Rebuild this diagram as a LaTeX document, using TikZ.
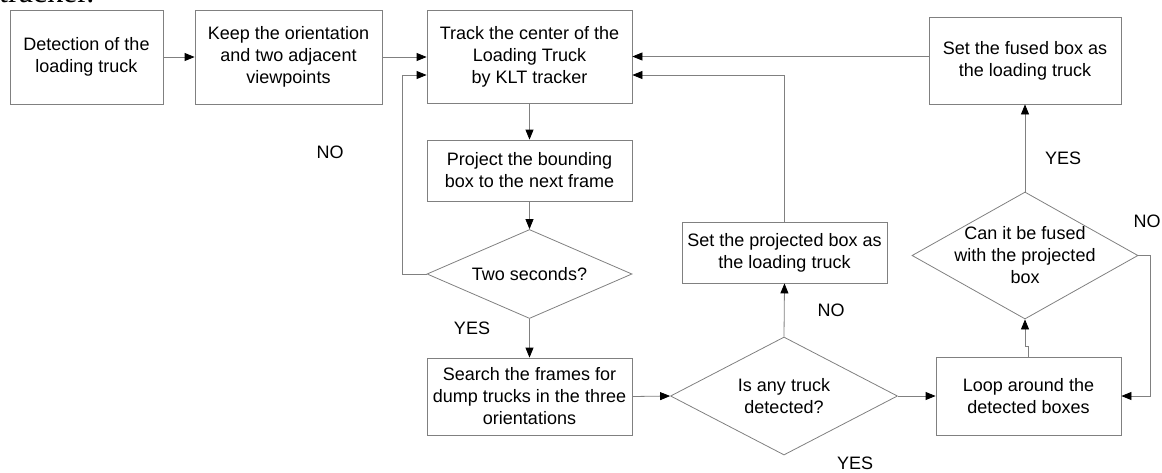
\documentclass[tikz,border=0pt]{standalone}
\usepackage{fontspec}
\setmainfont{Liberation Sans}
\newfontfamily\captionserif{Liberation Serif}
\usetikzlibrary{arrows.meta}
\usetikzlibrary{shapes.geometric}

\definecolor{flowgray}{RGB}{128,128,128}
\newcommand{\FlowFont}{\fontsize{18pt}{22pt}\selectfont}

\tikzset{
  flowline/.style={draw=flowgray, line width=0.8pt},
  flowarrow/.style={flowline, -{Triangle[length=10pt,width=8pt,black]}},
  stepbox/.style={draw=flowgray, line width=0.8pt, inner sep=0pt, align=center, font=\FlowFont},
  decisionbox/.style={draw=flowgray, line width=0.8pt, diamond, inner sep=0pt},
  flowtext/.style={align=center, inner sep=0pt, font=\FlowFont},
}

% name, position, width, height, text
\newcommand{\FlowStep}[5]{
  \node[stepbox, minimum width=#3, minimum height=#4] (#1) at #2 {#5};
}
\newcommand{\FlowDecision}[5]{
  \node[decisionbox, minimum width=#3, minimum height=#4] (#1) at #2 {};
  \node[flowtext] (#1text) at (#1) {#5};
}
\newcommand{\FlowLabel}[3]{
  \node[flowtext] (#1) at #2 {#3};
}

\begin{document}
\begin{tikzpicture}[x=1pt,y=-1pt]
\useasboundingbox (0,0) rectangle (1162,472);
\node[anchor=base west, inner sep=0pt, font=\captionserif\fontsize{32pt}{32pt}\selectfont] (caption) at (-1,2) {tracker.};

\FlowStep{detect}{(86.5,57)}{153pt}{94pt}{Detection of the\\loading truck}
\FlowStep{keep}{(288.5,57)}{187pt}{94pt}{Keep the orientation\\and two adjacent\\viewpoints}
\FlowStep{track}{(529.5,56.5)}{205pt}{93pt}{Track the center of the\\Loading Truck\\by KLT tracker}
\FlowStep{project}{(529.5,170.5)}{205pt}{61pt}{Project the bounding\\box to the next frame}
\FlowDecision{twosec}{(529.5,274)}{205pt}{89pt}{Two seconds?}
\FlowStep{search}{(529.5,396.5)}{205pt}{77pt}{Search the frames for\\dump trucks in the three\\orientations}
\FlowDecision{anytruck}{(784,396)}{227pt}{118pt}{Is any truck\\detected?}
\FlowStep{setproj}{(784.5,252.5)}{205pt}{61pt}{Set the projected box as\\the loading truck}
\FlowStep{loop}{(1028.5,396)}{185pt}{78pt}{Loop around the\\detected boxes}
\FlowDecision{fuse}{(1025,255.5)}{226pt}{127pt}{Can it be fused\\with the projected\\box}
\FlowStep{setfused}{(1025,60.5)}{192pt}{87pt}{Set the fused box as\\the loading truck}

\FlowLabel{noback}{(330,152)}{NO}
\FlowLabel{yestwo}{(472,328)}{YES}
\FlowLabel{noany}{(831,310)}{NO}
\FlowLabel{yesany}{(855,463)}{YES}
\FlowLabel{yesfuse}{(1063,158)}{YES}
\FlowLabel{nofuse}{(1147,221)}{NO}

\draw[flowarrow] (detect.east) -- (keep.west);
\draw[flowarrow] (keep.east) -- (keep.east -| track.west);
\draw[flowarrow] (track.south) -- (project.north);
\draw[flowarrow] (project.south) -- (twosec.north);
\draw[flowarrow] (twosec.west) -- ++(-24,0) |- ([yshift=-18.5pt]track.west);
\draw[flowarrow] (twosec.south) -- (search.north);
\draw[flowarrow] (search.east) -- (anytruck.west);
\draw[flowarrow] (anytruck.north) -- (setproj.south);
\draw[flowarrow] (setproj.north) |- ([yshift=-18.5pt]track.east);
\draw[flowarrow] (anytruck.east) -- (loop.west);
\draw[flowarrow] (loop.north) -- ++(0,-10) -| (fuse.south);
\draw[flowarrow] (fuse.north) -- (setfused.south);
\draw[flowarrow] (fuse.east) -- ++(12,0) |- (loop.east);
\draw[flowarrow] (setfused.west |- track.east) -- (track.east);
\end{tikzpicture}
\end{document}
